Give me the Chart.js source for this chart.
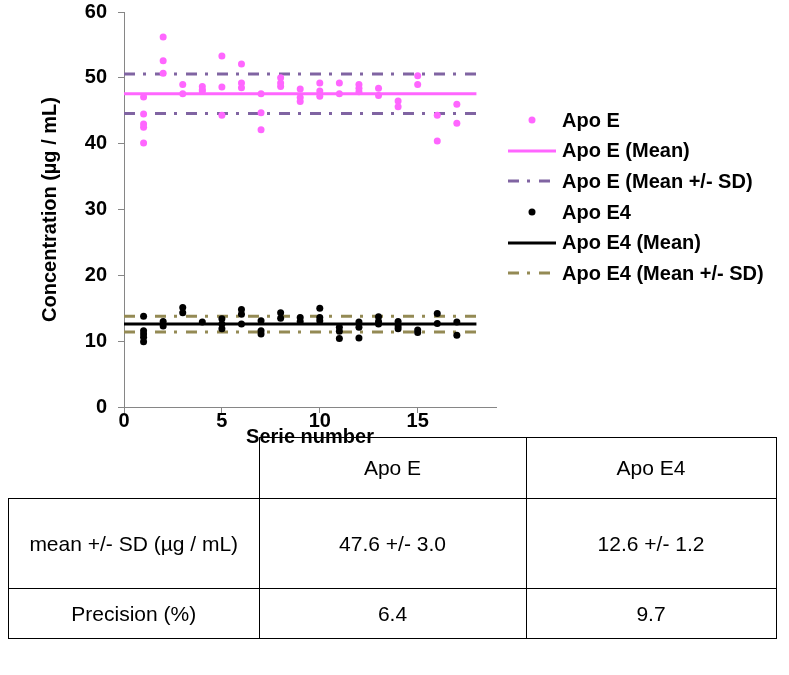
<!DOCTYPE html>
<html>
<head>
<meta charset="utf-8">
<script src="https://cdn.jsdelivr.net/npm/chart.js@4"></script>
<style>
  body { margin: 0; background: #fff; font-family: "Liberation Sans", Arial, sans-serif; }
  #wrap { position: relative; width: 789px; height: 675px; overflow: hidden; }
  #grafica { position: absolute; left: 0; top: -10px; }
  #leyenda { position: absolute; left: 508px; top: 105px; font: bold 20px "Liberation Sans", Arial, sans-serif; color: #000; }
  #leyenda div { height: 30.6px; display: flex; align-items: center; white-space: nowrap; }
  #leyenda svg { width: 48px; height: 12px; margin-right: 6px; flex: none; }
  #tabla { position: absolute; left: 8px; top: 437px; border-collapse: collapse; font: 21px "Liberation Sans", Arial, sans-serif; color: #000; }
  #tabla td { border: 1px solid #000; text-align: center; padding: 0; }
  #tabla td.vacia { border-top: none; border-left: none; }
</style>
</head>
<body>
<div id="wrap">
  <canvas id="grafica" width="789" height="460"></canvas>
  <div id="leyenda"></div>
  <table id="tabla">
    <tr style="height:61px"><td class="vacia" style="width:250px"></td><td style="width:266px">Apo E</td><td style="width:249px">Apo E4</td></tr>
    <tr style="height:90px"><td>mean +/- SD (µg / mL)</td><td>47.6 +/- 3.0</td><td>12.6 +/- 1.2</td></tr>
    <tr style="height:50px"><td>Precision (%)</td><td>6.4</td><td>9.7</td></tr>
  </table>
</div>
<script>
// numero de serie
let series = [1, 2, 3, 4, 5, 6, 7, 8, 9, 10, 11, 12, 13, 14, 15, 16, 17];

// replicados Apo E por serie
let apoE = [
    [47.1, 44.5, 43.0, 42.5, 40.1],
    [56.2, 52.6, 50.7],
    [49.0, 47.6],
    [48.7, 48.2, 48.0],
    [53.3, 48.6, 44.3],
    [52.1, 49.2, 48.5],
    [47.6, 44.7, 42.1],
    [50.0, 49.2, 48.7],
    [48.3, 47.0, 46.4],
    [49.2, 48.0, 47.2],
    [49.2, 47.6],
    [49.0, 48.4, 47.9],
    [48.4, 47.3],
    [46.5, 45.6],
    [50.3, 49.0],
    [44.3, 40.4],
    [46.0, 43.1]
];

// replicados Apo E4 por serie
let apoE4 = [
    [13.8, 11.6, 11.1, 10.6, 9.9],
    [13.0, 12.3],
    [15.1, 14.3],
    [12.9],
    [13.4, 12.6, 11.9],
    [14.8, 14.1, 12.6],
    [13.1, 11.6, 11.1],
    [14.3, 13.5],
    [13.6, 13.0],
    [15.0, 13.6, 13.1],
    [12.1, 11.5, 10.4],
    [12.9, 12.1, 10.5],
    [13.7, 13.0, 12.6],
    [13.0, 12.3, 11.9],
    [11.7, 11.3],
    [14.2, 12.7],
    [12.9, 10.9]
];

let mediaE = 47.6, sdE = 3.0;
let mediaE4 = 12.6, sdE4 = 1.2;
let lineaX = [0, 18];
let ticksX = [0, 5, 10, 15];

let rosa = "#FF66FF";
let morado = "#8064A2";
let negro = "#000000";
let oliva = "#948A54";
let guion = [11, 8, 3, 9];

function puntos(datos) {
    let p = [];
    datos.forEach((reps, i) => reps.forEach(v => p.push({ x: series[i], y: v })));
    return p;
}

function linea(y) {
    return lineaX.map(x => ({ x: x, y: y }));
}

function serieLinea(label, y, color, dash) {
    return {
        label: label,
        data: linea(y),
        showLine: true,
        borderColor: color,
        borderWidth: 3,
        borderDash: dash || [],
        borderCapStyle: "butt",
        pointRadius: 0,
        fill: false
    };
}

let datasets = [
    { label: "Apo E", data: puntos(apoE), backgroundColor: rosa, borderColor: rosa, pointRadius: 3.5, borderWidth: 0 },
    { label: "Apo E4", data: puntos(apoE4), backgroundColor: negro, borderColor: negro, pointRadius: 3.5, borderWidth: 0 },
    serieLinea("Apo E (Mean)", mediaE, rosa),
    serieLinea("Apo E (Mean +/- SD)", mediaE + sdE, morado, guion),
    serieLinea("Apo E (Mean +/- SD)", mediaE - sdE, morado, guion),
    serieLinea("Apo E4 (Mean)", mediaE4, negro),
    serieLinea("Apo E4 (Mean +/- SD)", mediaE4 + sdE4, oliva, guion),
    serieLinea("Apo E4 (Mean +/- SD)", mediaE4 - sdE4, oliva, guion)
];

// leyenda en HTML
let leyenda = [
    { texto: "Apo E", tipo: "punto", color: rosa },
    { texto: "Apo E (Mean)", tipo: "linea", color: rosa },
    { texto: "Apo E (Mean +/- SD)", tipo: "guion", color: morado },
    { texto: "Apo E4", tipo: "punto", color: negro },
    { texto: "Apo E4 (Mean)", tipo: "linea", color: negro },
    { texto: "Apo E4 (Mean +/- SD)", tipo: "guion", color: oliva }
];
let htmlLeyenda = "";
leyenda.forEach(item => {
    let muestra = "";
    if (item.tipo === "punto") {
        muestra = `<circle cx="24" cy="6" r="3.5" fill="${item.color}"/>`;
    } else if (item.tipo === "linea") {
        muestra = `<line x1="0" y1="6" x2="48" y2="6" stroke="${item.color}" stroke-width="3"/>`;
    } else {
        muestra = `<line x1="0" y1="6" x2="48" y2="6" stroke="${item.color}" stroke-width="3" stroke-dasharray="11 8 3 9"/>`;
    }
    htmlLeyenda += `<div><svg viewBox="0 0 48 12">${muestra}</svg>${item.texto}</div>`;
});
document.getElementById("leyenda").innerHTML = htmlLeyenda;

let fuente = { family: "'Liberation Sans', Arial, sans-serif", size: 20, weight: "bold", lineHeight: 1.1 };
let gris = "#868686";

new Chart(document.getElementById("grafica").getContext("2d"), {
    type: "scatter",
    data: { datasets: datasets },
    options: {
        responsive: false,
        animation: false,
        devicePixelRatio: 1,
        layout: { padding: { top: 0, right: 293, left: 0, bottom: 0 } },
        plugins: { legend: { display: false }, tooltip: { enabled: false } },
        scales: {
            x: {
                type: "linear",
                min: 0,
                max: 19,
                afterBuildTicks: s => { s.ticks = ticksX.map(v => ({ value: v })); },
                afterFit: s => { s.height = 43; },
                ticks: { color: "#000", font: fuente, padding: -3, maxRotation: 0 },
                grid: { display: true, drawOnChartArea: false, color: gris, tickLength: 6 },
                border: { color: gris, width: 1 },
                title: { display: true, text: "Serie number", color: "#000", font: fuente, padding: { top: 0, bottom: 2 } }
            },
            y: {
                min: 0,
                max: 60,
                afterFit: s => { s.width = 124; },
                ticks: { stepSize: 10, color: "#000", font: fuente, padding: 11 },
                grid: { display: true, drawOnChartArea: false, color: gris, tickLength: 6 },
                border: { color: gris, width: 1 },
                title: { display: true, text: "Concentration (µg / mL)", color: "#000", font: fuente, padding: { top: 39, bottom: 0 } }
            }
        }
    }
});
</script>
</body>
</html>
